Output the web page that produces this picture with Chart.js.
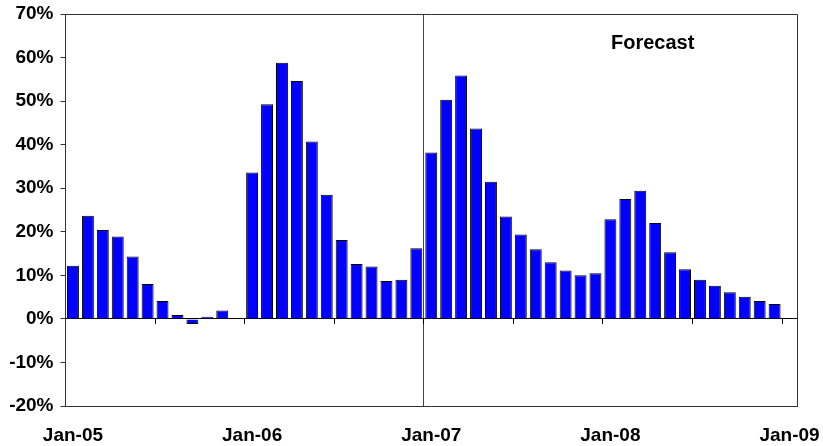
<!DOCTYPE html>
<html>
<head>
<meta charset="utf-8">
<script src="https://cdn.jsdelivr.net/npm/chart.js@4/dist/chart.umd.min.js"></script>
<style>
  html, body { margin: 0; padding: 0; background: #fff; }
  #wrap { width: 823px; height: 446px; }
</style>
</head>
<body>
<div id="wrap"><canvas id="myChart"></canvas></div>
<script>
// monthly categories, Jan-05 .. Jan-09
var months = [
  "Jan-05","Feb-05","Mar-05","Apr-05","May-05","Jun-05","Jul-05","Aug-05","Sep-05","Oct-05","Nov-05","Dec-05",
  "Jan-06","Feb-06","Mar-06","Apr-06","May-06","Jun-06","Jul-06","Aug-06","Sep-06","Oct-06","Nov-06","Dec-06",
  "Jan-07","Feb-07","Mar-07","Apr-07","May-07","Jun-07","Jul-07","Aug-07","Sep-07","Oct-07","Nov-07","Dec-07",
  "Jan-08","Feb-08","Mar-08","Apr-08","May-08","Jun-08","Jul-08","Aug-08","Sep-08","Oct-08","Nov-08","Dec-08",
  "Jan-09"
];

// growth, %
var growth = [
  12.2, 23.7, 20.4, 18.9, 14.3, 8.0, 4.1, 0.9, -1.2, 0.5, 1.9, null,
  33.6, 49.3, 58.8, 54.6, 40.7, 28.5, 18.1, 12.6, 12.0, 8.7, 9.0, 16.2,
  38.2, 50.3, 55.9, 43.7, 31.5, 23.5, 19.4, 16.0, 13.0, 11.1, 10.0, 10.5,
  22.9, 27.5, 29.4, 22.0, 15.3, 11.4, 9.0, 7.6, 6.1, 5.1, 4.1, 3.4,
  null
];

var yMin = -20, yMax = 70, yStep = 10;
var forecastStart = "Jan-07";
var forecastText = "Forecast";

var tickFont = { family: "'Liberation Sans', Arial, sans-serif", size: 19, weight: "bold" };
var lineCol = "#333";

// plot frame (top + right) and the Forecast note
var framePlugin = {
  id: "frame",
  afterDraw: function(chart) {
    var a = chart.chartArea, ctx = chart.ctx;
    ctx.save();
    ctx.strokeStyle = lineCol;
    ctx.lineWidth = 1;
    ctx.beginPath();
    ctx.moveTo(a.left, Math.round(a.top) + 0.5);
    ctx.lineTo(Math.round(a.right) + 0.5, Math.round(a.top) + 0.5);
    ctx.lineTo(Math.round(a.right) + 0.5, a.bottom);
    ctx.stroke();
    ctx.fillStyle = "#000";
    ctx.font = "bold 20px 'Liberation Sans', Arial, sans-serif";
    ctx.textBaseline = "middle";
    ctx.textAlign = "left";
    ctx.fillText(forecastText, 611, 43.5);
    ctx.restore();
  }
};

// keep axis boxes to fixed sizes, no label overflow padding
function fixX(h) {
  return function(s) { s.height = h; s.paddingLeft = 0; s.paddingRight = 0; };
}

var ctx = document.getElementById("myChart").getContext("2d");
var myChart = new Chart(ctx, {
  type: "bar",
  data: {
    labels: months,
    datasets: [{
      data: growth,
      backgroundColor: "#0000FF",
      borderColor: "#000",
      borderWidth: 1,
      barPercentage: 0.8,
      categoryPercentage: 1.0
    }]
  },
  options: {
    responsive: true,
    maintainAspectRatio: false,
    animation: false,
    layout: { padding: { top: 14, right: 26, left: 0, bottom: 0 } },
    plugins: { legend: { display: false }, tooltip: { enabled: false } },
    scales: {
      x: {
        position: "bottom",
        afterFit: fixX(40),
        border: { display: true, color: lineCol, width: 1 },
        grid: {
          offset: true,
          drawTicks: false,
          color: function(c) { return months[c.index] === forecastStart ? "#444" : "transparent"; }
        },
        ticks: {
          autoSkip: false,
          maxRotation: 0,
          padding: 18,
          color: "#000",
          font: tickFont,
          callback: function(v, i) { return i % 12 === 0 ? months[i] : ""; }
        }
      },
      // the zero line with half-year tick marks
      x0: {
        type: "category",
        axis: "x",
        position: { y: 0 },
        offset: true,
        afterFit: fixX(0),
        border: { display: true, color: "#000", width: 1 },
        grid: {
          offset: true,
          drawOnChartArea: false,
          drawTicks: true,
          tickLength: 5,
          color: function(c) { return c.index % 6 === 0 ? "#000" : "transparent"; }
        },
        ticks: { autoSkip: false, maxRotation: 0, padding: 0, display: false }
      },
      y: {
        min: yMin,
        max: yMax,
        afterFit: function(s) { s.width = 65.5; s.paddingTop = 0; s.paddingBottom = 0; },
        border: { display: true, color: lineCol, width: 1 },
        grid: { drawOnChartArea: false, drawTicks: true, tickLength: 5, color: lineCol },
        ticks: {
          stepSize: yStep,
          padding: 7,
          color: "#000",
          font: tickFont,
          callback: function(v) { return v + "%"; }
        }
      }
    }
  },
  plugins: [framePlugin]
});
</script>
</body>
</html>
